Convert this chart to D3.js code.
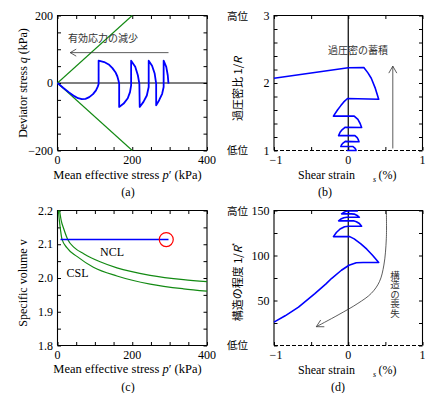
<!DOCTYPE html>
<html><head><meta charset="utf-8">
<script src="https://cdn.jsdelivr.net/npm/d3@7"></script>
<style>body{margin:0;background:#fff}</style>
</head><body>
<svg id="fig" width="425" height="393"></svg>
<script>
// ---------------- DATA ----------------
// (a) effective stress path p'-q
const pqPath = [[0,0],[15,-14],[30,-27],[45,-39],[55,-45],[65,-48],[75,-47],[85,-42],[95,-33],[103,-22],[108,-10],[110,-3],
  [110,66],[125,62],[137,55],[147,44],[155,32],[160,20],[163,8],[165,-2],
  [165,-71],[177,-61],[188,-45],[194,-27],[197,-7],
  [197,66],[208,48],[215,23],[219,-2],
  [220,-71],[230,-56],[239,-37],[244,-12],
  [244,66],[253,51],[260,28],[264,-2],
  [264,-66],[272,-51],[280,-32],[284,-12],
  [284,66],[291,48],[295,23],[297,-2]];
const csLineUpper = [[0,0],[200,200]];
const csLineLower = [[0,0],[200,-200]];
const arrowA = [[297,90],[34,90]];
const aXTicks = [0,50,100,150,200,250,300,350,400];
const aXLabels = [0,200,400];
const aYTicks = [-200,-150,-100,-50,0,50,100,150,200];
const aYLabels = [-200,0,200];

// (b) overconsolidation 1/R vs shear strain
const bPath = [[-1.0,2.07],[0.0,2.225],[0.21,2.228],
  [0.265,2.15],[0.31,2.07],[0.365,1.92],[0.41,1.76],
  [-0.01,1.77],
  [-0.06,1.72],[-0.10,1.665],[-0.145,1.6],[-0.2,1.51],
  [0.08,1.51],
  [0.13,1.46],[0.16,1.40],[0.18,1.34],
  [-0.04,1.345],
  [-0.08,1.31],[-0.11,1.27],[-0.13,1.22],
  [0.09,1.22],
  [0.12,1.19],[0.135,1.16],[0.145,1.13],
  [-0.04,1.135],
  [-0.07,1.11],[-0.09,1.085],[-0.1,1.06],
  [0.06,1.06],
  [0.085,1.04],[0.1,1.02],[0.105,1.0],
  [-0.02,1.0]];
const arrowB = [[0.6,1.03],[0.6,2.25]];
const bXTicks = [-1,-0.5,0,0.5,1];
const bXLabels = [-1,0,1];
const bYTicks = [1,1.2,1.4,1.6,1.8,2,2.2,2.4,2.6,2.8,3];
const bYLabels = [1,2,3];

// (c) specific volume
const nclCurve = [[5.5,2.2],[10,2.17],[16,2.148],[27,2.115],[45,2.09],[70,2.072],[114,2.048],[159,2.03],[248,2.008],[337,1.995],[400,1.989]];
const cslCurve = [[2.5,2.2],[5,2.17],[8,2.143],[12,2.115],[25,2.09],[52,2.064],[96,2.032],[159,2.006],[248,1.982],[337,1.968],[400,1.961]];
const cPath = [[8,2.114],[297,2.114]];
const cMarker = [291,2.114];
const cXTicks = [0,50,100,150,200,250,300,350,400];
const cXLabels = [0,200,400];
const cYTicks = [1.8,1.85,1.9,1.95,2.0,2.05,2.1,2.15,2.2];
const cYLabels = [1.8,1.9,2.0,2.1,2.2];

// (d) degree of structure 1/R*
const dPath = [[-1,26],[-0.85,33],[-0.67,42.7],[-0.45,57.6],[-0.3,68.5],[-0.226,74.4],[-0.092,83.6],[0.01,89.2],[0.108,92],[0.2,92.3],[0.41,92.3],
  [0.33,100],[0.25,107],[0.17,113],[0.08,118.5],[0.02,121],
  [-0.2,121],
  [-0.16,125.5],[-0.11,129.5],[-0.05,132],[0.0,132.5],
  [0.18,132.5],
  [0.15,135.5],[0.11,137.5],[0.07,138.5],
  [-0.13,138.5],
  [-0.1,140.5],[-0.06,142],[-0.02,142.5],
  [0.15,142.5],
  [0.12,144.5],[0.08,146],[0.04,146.3],
  [-0.09,146.3],
  [-0.06,148],[-0.02,149.3],[0.0,149.5],
  [0.13,149.5]];
const arrowD = [[0.513,149.5],[0.513,119],[0.48,89.4],[0.42,70.9],[0.31,57.9],[0.13,46.8],[-0.137,33.9],[-0.43,20.9]];
const dXTicks = [-1,-0.5,0,0.5,1];
const dXLabels = [-1,0,1];
const dYTicks = [0,25,50,75,100,125,150];
const dYLabels = [50,100,150];

// ---------------- DRAW ----------------
const svg = d3.select("#fig");
const SERIF = "'Liberation Serif','Times New Roman',serif";
const CJK = "'Noto Sans CJK JP','Noto Sans CJK SC',sans-serif";
const BLUE = "#0000ff", GREEN = "#138a13";
const fmt = v => (v < 0 ? "\u2212" + Math.abs(v) : String(v));

function panel(box, xd, yd, xt, xl, yt, yl, dashedBottom, yfmt) {
  const sx = d3.scaleLinear(xd, [box.x0, box.x1]);
  const sy = d3.scaleLinear(yd, [box.y1, box.y0]);
  const g = svg.append("g");
  const ts = 3.5;
  const axes = [
    [d3.axisBottom(sx).tickValues(xt), `translate(0,${box.y1})`],
    [d3.axisTop(sx).tickValues(xt), `translate(0,${box.y0})`],
    [d3.axisLeft(sy).tickValues(yt), `translate(${box.x0},0)`],
    [d3.axisRight(sy).tickValues(yt), `translate(${box.x1},0)`]
  ];
  axes.forEach(([ax, tr]) => {
    const a = g.append("g").attr("transform", tr).call(ax.tickSize(-ts).tickFormat(""));
    a.select(".domain").remove();
    a.selectAll("line").attr("stroke", "#000").attr("stroke-width", 1);
  });
  const fr = g.append("g").attr("stroke", "#000").attr("stroke-width", 1.1).attr("fill", "none");
  fr.append("path").attr("d", `M${box.x0},${box.y1}V${box.y0}H${box.x1}V${box.y1}`);
  fr.append("line").attr("x1", box.x0).attr("x2", box.x1).attr("y1", box.y1).attr("y2", box.y1)
    .attr("stroke-dasharray", dashedBottom ? "4,2" : null);
  g.selectAll(".xl").data(xl).join("text").attr("class", "xl").attr("x", d => sx(d) + (d < 0 ? 2 : 0)).attr("y", box.y1 + 13.5)
    .attr("text-anchor", "middle").attr("font-family", SERIF).attr("font-size", 12).text(fmt);
  g.selectAll(".yl").data(yl).join("text").attr("class", "yl").attr("x", box.x0 - 4.5).attr("y", d => sy(d)).attr("dy", "0.35em")
    .attr("text-anchor", "end").attr("font-family", SERIF).attr("font-size", 12).text(yfmt || fmt);
  return {g, sx, sy};
}

const boxA = {x0:57.5, x1:207, y0:15.5, y1:150.5};
const boxB = {x0:274, x1:422.5, y0:15.5, y1:150.5};
const boxC = {x0:57.5, x1:207, y0:210.5, y1:345.5};
const boxD = {x0:274, x1:422.5, y0:210.5, y1:345.5};

// ---- (a)
const A = panel(boxA, [0,400], [-200,200], aXTicks, aXLabels, aYTicks, aYLabels, false);
const lineA = d3.line().x(d => A.sx(d[0])).y(d => A.sy(d[1]));
A.g.append("line").attr("x1", A.sx(0)).attr("x2", A.sx(400)).attr("y1", A.sy(0)).attr("y2", A.sy(0))
  .attr("stroke", "#000").attr("stroke-width", 1.2);
[csLineUpper, csLineLower].forEach(l => A.g.append("path").attr("d", lineA(l)).attr("fill", "none")
  .attr("stroke", GREEN).attr("stroke-width", 1.1));
A.g.append("path").attr("d", lineA(pqPath)).attr("fill", "none").attr("stroke", BLUE).attr("stroke-width", 1.8)
  .attr("stroke-linejoin", "round");
A.g.append("path").attr("d", lineA(arrowA)).attr("stroke", "#333").attr("stroke-width", 0.8).attr("fill", "none");
{
  const tx = A.sx(arrowA[1][0]), ty = A.sy(arrowA[1][1]);
  A.g.append("path").attr("d", `M${tx+6},${ty-3.5}L${tx},${ty}L${tx+6},${ty+3.5}`).attr("stroke", "#333")
    .attr("stroke-width", 0.8).attr("fill", "none");
}
A.g.append("text").attr("x", 68).attr("y", 42).attr("font-family", CJK).attr("font-size", 10).attr("fill", "#333")
  .text("有効応力の減少");

// ---- (b)
const B = panel(boxB, [-1,1], [1,3], bXTicks, bXLabels, bYTicks, bYLabels, true);
const lineB = d3.line().x(d => B.sx(d[0])).y(d => B.sy(d[1]));
B.g.append("line").attr("x1", B.sx(0)).attr("x2", B.sx(0)).attr("y1", B.sy(1)).attr("y2", B.sy(3))
  .attr("stroke", "#000").attr("stroke-width", 1.2);
B.g.append("path").attr("d", lineB(bPath)).attr("fill", "none").attr("stroke", BLUE).attr("stroke-width", 1.6)
  .attr("stroke-linejoin", "round");
B.g.append("path").attr("d", lineB(arrowB)).attr("stroke", "#333").attr("stroke-width", 0.8).attr("fill", "none");
{
  const tx = B.sx(arrowB[1][0]), ty = B.sy(arrowB[1][1]);
  B.g.append("path").attr("d", `M${tx-4},${ty+7}L${tx},${ty}L${tx+4},${ty+7}`).attr("stroke", "#333")
    .attr("stroke-width", 0.8).attr("fill", "none");
}
B.g.append("text").attr("x", 358).attr("y", 54).attr("text-anchor", "middle").attr("font-family", CJK)
  .attr("font-size", 10).attr("fill", "#333").text("過圧密の蓄積");

// ---- (c)
const C = panel(boxC, [0,400], [1.8,2.2], cXTicks, cXLabels, cYTicks, cYLabels, false, d => d.toFixed(1));
const lineC = d3.line().x(d => C.sx(d[0])).y(d => C.sy(d[1])).curve(d3.curveMonotoneX);
[nclCurve, cslCurve].forEach(l => C.g.append("path").attr("d", lineC(l)).attr("fill", "none")
  .attr("stroke", GREEN).attr("stroke-width", 1.2));
C.g.append("path").attr("d", d3.line().x(d => C.sx(d[0])).y(d => C.sy(d[1]))(cPath)).attr("stroke", BLUE)
  .attr("stroke-width", 1.5).attr("fill", "none");
C.g.append("circle").attr("cx", C.sx(cMarker[0])).attr("cy", C.sy(cMarker[1])).attr("r", 7)
  .attr("fill", "none").attr("stroke", "#ff0000").attr("stroke-width", 1.2);
C.g.append("text").attr("x", 100).attr("y", 256).attr("font-family", SERIF).attr("font-size", 12).text("NCL");
C.g.append("text").attr("x", 66.5).attr("y", 277).attr("font-family", SERIF).attr("font-size", 12).text("CSL");

// ---- (d)
const D = panel(boxD, [-1,1], [0,150], dXTicks, dXLabels, dYTicks, dYLabels, true);
const lineD = d3.line().x(d => D.sx(d[0])).y(d => D.sy(d[1]));
D.g.append("line").attr("x1", D.sx(0)).attr("x2", D.sx(0)).attr("y1", D.sy(0)).attr("y2", D.sy(150))
  .attr("stroke", "#000").attr("stroke-width", 1.2);
D.g.append("path").attr("d", lineD(dPath)).attr("fill", "none").attr("stroke", BLUE).attr("stroke-width", 1.6)
  .attr("stroke-linejoin", "round");
const curveD = d3.line().x(d => D.sx(d[0])).y(d => D.sy(d[1])).curve(d3.curveCatmullRom.alpha(0.5));
D.g.append("path").attr("d", curveD(arrowD)).attr("stroke", "#333")
  .attr("stroke-width", 0.8).attr("fill", "none");
{
  const n = arrowD.length;
  const tx = D.sx(arrowD[n-1][0]), ty = D.sy(arrowD[n-1][1]);
  const px = D.sx(arrowD[n-2][0]), py = D.sy(arrowD[n-2][1]);
  const ang = Math.atan2(ty - py, tx - px);
  const L = 8, w = 0.5;
  const p1 = [tx - L*Math.cos(ang - w), ty - L*Math.sin(ang - w)];
  const p2 = [tx - L*Math.cos(ang + w), ty - L*Math.sin(ang + w)];
  D.g.append("path").attr("d", `M${p1}L${tx},${ty}L${p2}`).attr("stroke", "#333").attr("stroke-width", 0.8).attr("fill", "none");
}
// vertical text (single element, vertical writing mode)
D.g.append("text").attr("x", 395).attr("y", 294).attr("text-anchor", "middle")
  .style("writing-mode", "vertical-rl").style("text-orientation", "upright")
  .attr("font-family", CJK).attr("font-size", 9.5).attr("fill", "#333").text("構造の喪失");

// ---- axis titles
function xTitleStress(cx, y) {
  const t = svg.append("text").attr("x", cx).attr("y", y).attr("text-anchor", "middle")
    .attr("font-family", SERIF).attr("font-size", 12.5);
  t.append("tspan").text("Mean effective stress  ");
  t.append("tspan").attr("font-style", "italic").text("p");
  t.append("tspan").text("\u2032 (kPa)");
}
xTitleStress(127.5, 178.5);
xTitleStress(127.5, 373);

function xTitleStrain(y) {
  svg.append("text").attr("x", 298).attr("y", y).attr("font-family", SERIF).attr("font-size", 12).text("Shear strain");
  svg.append("text").attr("x", 373).attr("y", y + 3).attr("font-family", SERIF).attr("font-size", 8)
    .attr("font-style", "italic").text("s");
  svg.append("text").attr("x", 378.5).attr("y", y).attr("font-family", SERIF).attr("font-size", 12).text("(%)");
}
xTitleStrain(179);
xTitleStrain(374);

function yTitle(x, cy, parts, font, size) {
  const t = svg.append("text").attr("transform", `translate(${x},${cy}) rotate(-90)`).attr("text-anchor", "middle")
    .attr("font-family", font).attr("font-size", size);
  parts.forEach(p => {
    const s = t.append("tspan").text(p.t);
    if (p.i) s.attr("font-style", "italic");
    if (p.sup) s.attr("font-size", size * 0.7).attr("dy", "-0.5em");
  });
}
yTitle(27, 83, [{t:"Deviator stress  "},{t:"q",i:1},{t:" (kPa)"}], SERIF, 12);
yTitle(27, 283, [{t:"Specific volume  v"}], SERIF, 12);
yTitle(242, 89, [{t:"過圧密比 1/"},{t:"R",i:1}], CJK, 11);
yTitle(242, 282, [{t:"構造の程度 1/"},{t:"R",i:1},{t:"*",sup:1}], CJK, 11);

// level labels
[["高位",16],["低位",150.5],["高位",211],["低位",345.5]].forEach(([s,y]) =>
  svg.append("text").attr("x", 248).attr("y", y).attr("dy", "0.36em").attr("text-anchor", "end")
    .attr("font-family", CJK).attr("font-size", 10.5).text(s));

// panel letters
[["(a)",128,196],["(b)",325,196],["(c)",128,391],["(d)",338,391]].forEach(([s,x,y]) =>
  svg.append("text").attr("x", x).attr("y", y).attr("text-anchor", "middle").attr("font-family", SERIF)
    .attr("font-size", 12).text(s));
</script>
</body></html>
